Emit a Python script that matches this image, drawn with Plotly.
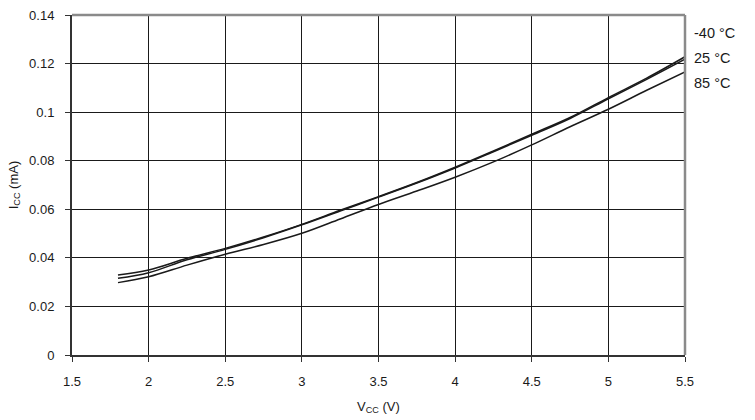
import plotly.graph_objects as go

vcc = [1.8, 2.0, 2.25, 2.5, 2.75, 3.0, 3.25, 3.5, 3.75, 4.0, 4.25, 4.5, 4.75, 5.0, 5.25, 5.5]
icc_m40 = [0.0329, 0.0350, 0.0398, 0.0439, 0.0486, 0.0538, 0.0596, 0.0652, 0.0710, 0.0773,
           0.0840, 0.0909, 0.0978, 0.1060, 0.1140, 0.1228]
icc_25 = [0.0316, 0.0339, 0.0392, 0.0435, 0.0483, 0.0536, 0.0593, 0.0650, 0.0708, 0.0770,
          0.0837, 0.0905, 0.0974, 0.1055, 0.1135, 0.1218]
icc_85 = [0.0298, 0.0322, 0.0370, 0.0415, 0.0455, 0.0501, 0.0560, 0.0620, 0.0675, 0.0732,
          0.0795, 0.0865, 0.0940, 0.1012, 0.1090, 0.1166]
series_names = ["-40 °C", "25 °C", "85 °C"]
series_vals = [icc_m40, icc_25, icc_85]
label_y = [0.1325, 0.1222, 0.1120]

fig = go.Figure()
for name, vals in zip(series_names, series_vals):
    fig.add_trace(go.Scatter(x=vcc, y=vals, mode="lines", name=name,
                             line=dict(color="#1a1a1a", width=1.5), line_shape="spline"))

for name, ly in zip(series_names, label_y):
    fig.add_annotation(x=1.0, xref="paper", y=ly, yref="y", text=name, showarrow=False,
                       xanchor="left", xshift=7, font=dict(size=14.5, color="#1a1a1a"))

# gray top and right frame
fig.add_shape(type="line", xref="paper", yref="paper", x0=0, x1=1, y0=1, y1=1,
              line=dict(color="#8a8a8a", width=2.5), layer="above")
fig.add_shape(type="line", xref="paper", yref="paper", x0=1, x1=1, y0=0, y1=1,
              line=dict(color="#8a8a8a", width=2.5), layer="above")

fig.update_layout(
    width=755, height=420,
    margin=dict(l=72, r=70, t=15, b=65, autoexpand=False),
    paper_bgcolor="white", plot_bgcolor="white",
    showlegend=False,
    font=dict(family="Liberation Sans, Arial, sans-serif", size=13, color="#1a1a1a"),
    xaxis=dict(range=[1.5, 5.5], dtick=0.5, tick0=1.5, showgrid=True, gridcolor="#1a1a1a",
               gridwidth=1, showline=True, linecolor="#333", linewidth=2, ticks="outside",
               ticklen=5, tickcolor="#333", zeroline=False, ticklabelstandoff=8,
               automargin=False,
               title=dict(text="V<sub>CC</sub> (V)", font=dict(size=13), standoff=14)),
    yaxis=dict(range=[0, 0.14], dtick=0.02, showgrid=True, gridcolor="#1a1a1a", gridwidth=1,
               showline=True, linecolor="#333", linewidth=2, ticks="outside", ticklen=5,
               tickcolor="#333", zeroline=False, ticklabelstandoff=8, automargin=False,
               title=dict(text="I<sub>CC</sub> (mA)", font=dict(size=13), standoff=8)),
)

fig.write_html("out.html", config={"displayModeBar": False},
               post_script="document.body.style.margin='0';")
